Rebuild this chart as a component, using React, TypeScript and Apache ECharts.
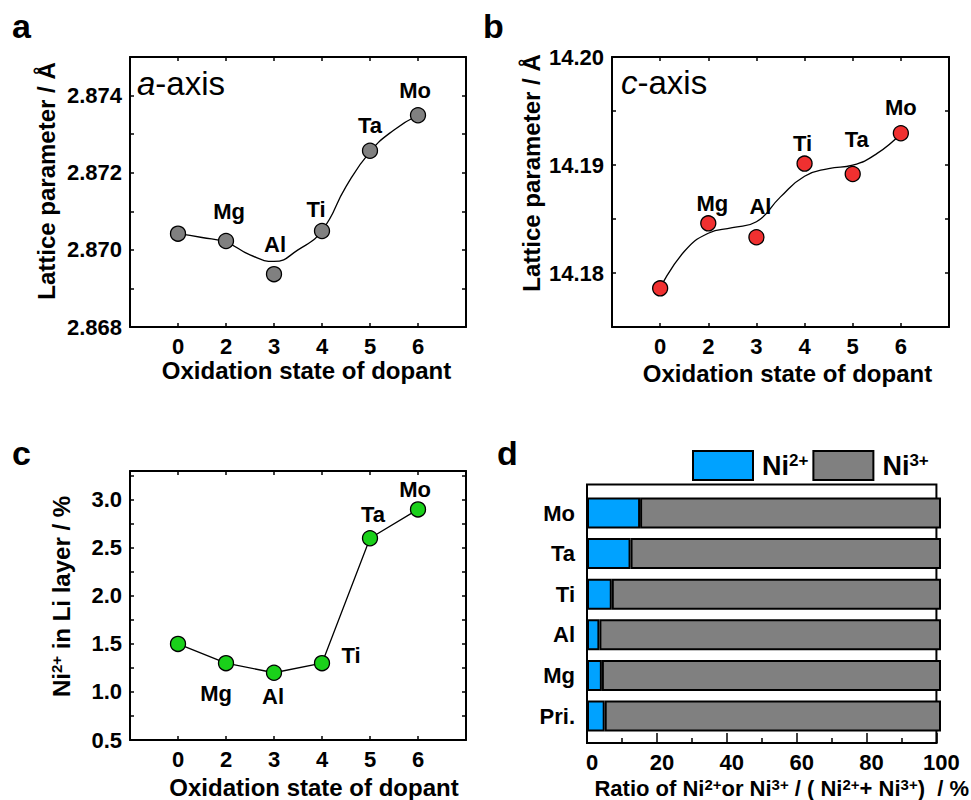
import React, { useEffect, useRef } from 'react';
import * as echarts from 'echarts';

const FONT = "'Liberation Sans', Arial, Helvetica, sans-serif";

// ---- data ----
const oxStates = ['0', '2', '3', '4', '5', '6'];
const dopantLabels = ['', 'Mg', 'Al', 'Ti', 'Ta', 'Mo'];
const pointIdx = [0, 1, 2, 3, 4, 5];

const latticeA = [2.87042, 2.87023, 2.86937, 2.87049, 2.87257, 2.87349];
const fitIdx = [0, 0.5, 1, 1.5, 2, 2.5, 3, 3.5, 4, 4.5, 5];
const fitA = [2.87042, 2.87032, 2.8702, 2.86987, 2.8697, 2.87, 2.8705, 2.87164, 2.87254, 2.87311, 2.87349];

const latticeC = [14.17858, 14.1846, 14.18331, 14.19013, 14.18917, 14.19294];
const fitC = [14.1786, 14.18199, 14.18368, 14.1842, 14.18475, 14.18705, 14.18896, 14.18967, 14.18998, 14.19105, 14.1929];

const niInLi = [1.5, 1.3, 1.2, 1.3, 2.6, 2.9];

const samples = ['Pri.', 'Mg', 'Al', 'Ti', 'Ta', 'Mo'];
const ni2Ratio = [5.0, 4.2, 3.5, 7.0, 12.3, 15.0];
const ni3Ratio = [95.0, 95.8, 96.5, 93.0, 87.7, 85.0];

// ---- label offsets (styling) ----
const offA = [[0, 0], [3, -29], [1, -30], [-6, -21], [0, -25], [-3, -25]];
const offB = [[0, 0], [4, -20], [4, -31], [-2, -20], [4, -34], [0, -26]];
const offC = [[0, 0], [-10, 30], [-1, 24], [29, -8], [3, -24], [-3, -20]];

const axisLine = { show: true, onZero: false, lineStyle: { color: '#000', width: 2 } };
const tick = { show: true, inside: true, length: 4, lineStyle: { color: '#000', width: 1.5 } };
const supRich = { s: { fontSize: 15, fontWeight: 'bold', color: '#000', fontFamily: FONT, verticalAlign: 'top' } };

function xBottom(gridIndex: number, nameGap: number, padLeft: number) {
  return {
    type: 'value', gridIndex, position: 'bottom', min: -1, max: 6, interval: 1,
    axisLine, axisTick: tick, splitLine: { show: false },
    axisLabel: {
      formatter: (v: number) => (v >= 0 && v <= 5 ? oxStates[Math.round(v)] : ''),
      fontSize: 22, fontWeight: 'bold', color: '#000', margin: 8, fontFamily: FONT,
    },
    name: 'Oxidation state of dopant', nameLocation: 'middle', nameGap, nameMoveOverlap: false,
    nameTextStyle: { fontSize: 24, fontWeight: 'bold', color: '#000', fontFamily: FONT, padding: [0, 0, 0, padLeft] },
  };
}
function xTop(gridIndex: number) {
  return {
    type: 'value', gridIndex, position: 'top', min: -1, max: 6, interval: 1,
    axisLine, axisTick: tick, axisLabel: { show: false }, splitLine: { show: false },
  };
}
function yLeft(gridIndex: number, min: number, max: number, interval: number, fmt: (v: number) => string,
  name: string, nameGap: number, padLeft: number) {
  return {
    type: 'value', gridIndex, position: 'left', min, max, interval,
    axisLine, axisTick: tick, splitLine: { show: false },
    axisLabel: { formatter: fmt, fontSize: 22, fontWeight: 'bold', color: '#000', margin: 8, fontFamily: FONT, showMinLabel: true, showMaxLabel: true },
    name, nameLocation: 'middle', nameGap, nameRotate: 90, nameMoveOverlap: false,
    nameTextStyle: { fontSize: 24, fontWeight: 'bold', color: '#000', fontFamily: FONT, padding: [0, 0, 0, padLeft], rich: supRich },
  };
}
function yRight(gridIndex: number, min: number, max: number, interval: number) {
  return {
    type: 'value', gridIndex, position: 'right', min, max, interval,
    axisLine, axisTick: tick, axisLabel: { show: false }, splitLine: { show: false },
  };
}

const fmtA = (v: number) => {
  const k = Math.round(v * 1000);
  return k % 2 === 0 && k <= 2874 ? (k / 1000).toFixed(3) : '';
};
const fmtB = (v: number) => {
  const k = Math.round(v * 1000);
  return k % 10 === 0 ? (k / 1000).toFixed(2) : '';
};
const fmtC = (v: number) => {
  const k = Math.round(v * 100);
  return k % 50 === 0 && k <= 300 ? (k / 100).toFixed(1) : '';
};

function pointData(vals: number[], offs: number[][]) {
  return pointIdx.map((x, i) => ({
    value: [x, vals[i]],
    label: { show: dopantLabels[i] !== '', formatter: dopantLabels[i], position: 'inside', offset: offs[i] },
  }));
}
const ptLabel = { fontSize: 22, fontWeight: 'bold', color: '#000', fontFamily: FONT };

const option: any = {
  animation: false,
  backgroundColor: '#fff',
  textStyle: { fontFamily: FONT },
  grid: [
    { left: 130, top: 57, width: 336, height: 270 },
    { left: 612, top: 57, width: 337, height: 270 },
    { left: 130, top: 471, width: 336, height: 271 },
    { left: 587, top: 484.5, width: 354, height: 260.5, show: true, borderColor: '#000', borderWidth: 2, backgroundColor: 'transparent' },
    { left: 587, top: 492.7, width: 354, height: 243.6 },
  ],
  xAxis: [
    xBottom(0, 31, 17), xTop(0),
    xBottom(1, 34, 14), xTop(1),
    xBottom(2, 35, 32), xTop(2),
    {
      type: 'value', gridIndex: 3, position: 'bottom', min: 0, max: 100, interval: 20,
      axisLine, splitLine: { show: false },
      axisTick: { show: true, inside: true, length: 10, lineStyle: { color: '#000', width: 1.5 } },
      minorTick: { show: true, splitNumber: 2, length: 5, lineStyle: { color: '#000', width: 1.5 } },
      axisLabel: { fontSize: 22, fontWeight: 'bold', color: '#000', margin: 8, fontFamily: FONT, padding: [0, 0, 0, 10] },
      name: 'Ratio of Ni{s|2+}or Ni{s|3+} / ( Ni{s|2+}+ Ni{s|3+})  / %',
      nameLocation: 'middle', nameGap: 34, nameMoveOverlap: false,
      nameTextStyle: { fontSize: 22, fontWeight: 'bold', color: '#000', fontFamily: FONT, padding: [0, 0, 0, 40], rich: supRich },
    },
    { type: 'value', gridIndex: 4, min: 0, max: 100, show: false },
  ],
  yAxis: [
    yLeft(0, 2.868, 2.875, 0.001, fmtA, 'Lattice parameter / Å', 72, 22), yRight(0, 2.868, 2.875, 0.001),
    yLeft(1, 14.175, 14.2, 0.005, fmtB, 'Lattice parameter / Å', 69, 38), yRight(1, 14.175, 14.2, 0.005),
    yLeft(2, 0.5, 3.3, 0.25, fmtC, 'Ni{s|2+} in Li layer / %', 57, 18), yRight(2, 0.5, 3.3, 0.25),
    { type: 'value', gridIndex: 3, min: 0, max: 1, show: false },
    {
      type: 'category', gridIndex: 4, data: samples,
      axisLine: { show: false }, axisTick: { show: false }, splitLine: { show: false },
      axisLabel: { fontSize: 22, fontWeight: 'bold', color: '#000', margin: 12, fontFamily: FONT },
    },
  ],
  legend: {
    left: 692, top: 450, padding: 0, itemWidth: 60, itemHeight: 29, itemGap: 4, icon: 'rect',
    data: ['Ni2+', 'Ni3+'],
    formatter: (n: string) => (n === 'Ni2+' ? 'Ni{s|2+}' : 'Ni{s|3+}'),
    itemStyle: { borderColor: '#000', borderWidth: 2 },
    textStyle: { fontSize: 27, fontWeight: 'bold', color: '#000', fontFamily: FONT, padding: [0, 0, 0, 4], rich: { s: { fontSize: 17, fontWeight: 'bold', color: '#000', fontFamily: FONT, verticalAlign: 'top' } } },
  },
  graphic: [
    { type: 'text', x: 12, y: 26, style: { text: 'a', fontSize: 34, fontWeight: 'bold', fontFamily: FONT, fill: '#000', verticalAlign: 'middle' } },
    { type: 'text', x: 483, y: 26, style: { text: 'b', fontSize: 34, fontWeight: 'bold', fontFamily: FONT, fill: '#000', verticalAlign: 'middle' } },
    { type: 'text', x: 12, y: 453, style: { text: 'c', fontSize: 34, fontWeight: 'bold', fontFamily: FONT, fill: '#000', verticalAlign: 'middle' } },
    { type: 'text', x: 497, y: 453, style: { text: 'd', fontSize: 34, fontWeight: 'bold', fontFamily: FONT, fill: '#000', verticalAlign: 'middle' } },
    {
      type: 'text', x: 137, y: 83.5,
      style: { text: '{i|a}-axis', fontSize: 33, fontFamily: FONT, fill: '#000', verticalAlign: 'middle', rich: { i: { fontStyle: 'italic', fontSize: 33, fontFamily: FONT } } },
    },
    {
      type: 'text', x: 621, y: 82.5,
      style: { text: '{i|c}-axis', fontSize: 33, fontFamily: FONT, fill: '#000', verticalAlign: 'middle', rich: { i: { fontStyle: 'italic', fontSize: 33, fontFamily: FONT } } },
    },
  ],
  series: [
    {
      type: 'line', xAxisIndex: 0, yAxisIndex: 0, smooth: 0.5, showSymbol: false, z: 2,
      data: fitIdx.map((x, i) => [x, fitA[i]]), lineStyle: { color: '#000', width: 1.3 },
    },
    {
      type: 'scatter', xAxisIndex: 0, yAxisIndex: 0, symbolSize: 15, z: 3,
      itemStyle: { color: '#808080', borderColor: '#000', borderWidth: 1.3, opacity: 1 },
      label: ptLabel, data: pointData(latticeA, offA),
    },
    {
      type: 'line', xAxisIndex: 2, yAxisIndex: 2, smooth: 0.5, showSymbol: false, z: 2,
      data: fitIdx.map((x, i) => [x, fitC[i]]), lineStyle: { color: '#000', width: 1.3 },
    },
    {
      type: 'scatter', xAxisIndex: 2, yAxisIndex: 2, symbolSize: 15, z: 3,
      itemStyle: { color: '#f03030', borderColor: '#000', borderWidth: 1.3, opacity: 1 },
      label: ptLabel, data: pointData(latticeC, offB),
    },
    {
      type: 'line', xAxisIndex: 4, yAxisIndex: 4, symbol: 'circle', symbolSize: 15, showSymbol: true, z: 3,
      lineStyle: { color: '#000', width: 1.3 },
      itemStyle: { color: '#1ad01a', borderColor: '#000', borderWidth: 1.3 },
      label: ptLabel, data: pointData(niInLi, offC),
    },
    {
      type: 'bar', name: 'Ni2+', xAxisIndex: 7, yAxisIndex: 7, stack: 'ratio', barWidth: 31,
      itemStyle: { color: '#00a2ff', borderColor: '#000', borderWidth: 2 },
      data: ni2Ratio,
    },
    {
      type: 'bar', name: 'Ni3+', xAxisIndex: 7, yAxisIndex: 7, stack: 'ratio', barWidth: 31,
      itemStyle: { color: '#808080', borderColor: '#000', borderWidth: 2 },
      data: ni3Ratio,
    },
  ],
};

export default function App() {
  const ref = useRef<HTMLDivElement>(null);
  useEffect(() => {
    const chart = echarts.init(ref.current as HTMLDivElement, null, { renderer: 'svg' });
    chart.setOption(option);
    return () => chart.dispose();
  }, []);
  return <div ref={ref} style={{ position: 'absolute', left: 0, top: 0, width: 971, height: 800 }} />;
}
